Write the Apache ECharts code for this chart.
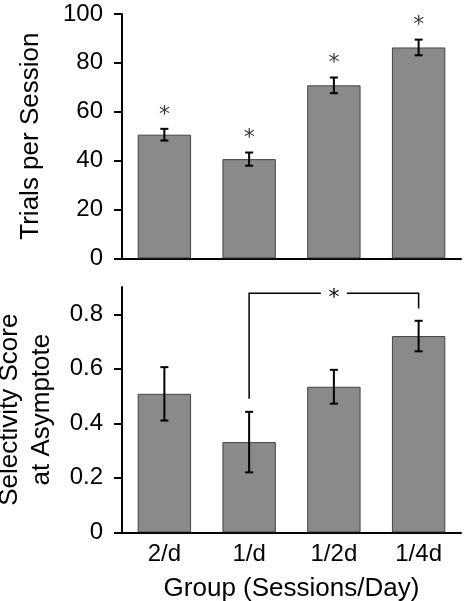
<!DOCTYPE html>
<html><head><meta charset="utf-8">
<script src="https://cdn.jsdelivr.net/npm/echarts@6/dist/echarts.min.js"></script>
<style>html,body{margin:0;padding:0;background:#fff}#c{width:464px;height:601px}</style>
</head><body><div id="c"></div>
<script>
var categories = ['2/d', '1/d', '1/2d', '1/4d'];
var trialsMean = [50.6, 40.6, 70.8, 86.3];
var trialsErr = [2.4, 2.7, 3.2, 3.2];
var trialsSig = [true, true, true, true];
var selMean = [0.508, 0.331, 0.534, 0.720];
var selErr = [0.098, 0.111, 0.062, 0.056];
var trialsTicks = [0, 20, 40, 60, 80, 100];
var selTicks = [0, 0.2, 0.4, 0.6, 0.8];
var bracket = [1, 3, 0.877, 0.49, 0.821]; // from cat, to cat, level, left leg end, right leg end

var FONT = '"Liberation Sans", Arial, Helvetica, sans-serif';
var STARFONT = '"DejaVu Sans", sans-serif';
var chart = echarts.init(document.getElementById('c'), null, {renderer: 'canvas'});

function errItem(params, api) {
  var x = api.value(0), lo = api.value(1), hi = api.value(2);
  var pHi = api.coord([x, hi]), pLo = api.coord([x, lo]);
  var cap = 4;
  var st = {stroke: '#000', lineWidth: 2};
  return {type: 'group', children: [
    {type: 'line', shape: {x1: pHi[0], y1: pHi[1], x2: pLo[0], y2: pLo[1]}, style: st},
    {type: 'line', shape: {x1: pHi[0]-cap, y1: pHi[1], x2: pHi[0]+cap, y2: pHi[1]}, style: st},
    {type: 'line', shape: {x1: pLo[0]-cap, y1: pLo[1], x2: pLo[0]+cap, y2: pLo[1]}, style: st}
  ]};
}

var trialsErrData = categories.map(function (c, i) { return [i, trialsMean[i]-trialsErr[i], trialsMean[i]+trialsErr[i]]; });
var selErrData = categories.map(function (c, i) { return [i, selMean[i]-selErr[i], selMean[i]+selErr[i]]; });
var starData = categories.map(function (c, i) { return trialsSig[i] ? [i, trialsMean[i]+trialsErr[i]] : null; }).filter(Boolean);

var axisLineStyle = {color: '#000', width: 2};
var barStyle = {color: '#8a8a8a', borderColor: '#444', borderWidth: 1};

var option = {
  animation: false,
  backgroundColor: '#fff',
  grid: [
    {left: 122, right: 3, top: 14, height: 244.3, containLabel: false, outerBoundsMode: 'none'},
    {left: 122, right: 3, top: 287, height: 245.3, containLabel: false, outerBoundsMode: 'none'}
  ],
  xAxis: [
    {gridIndex: 0, type: 'category', data: categories, axisLine: {lineStyle: axisLineStyle}, axisTick: {show: false}, axisLabel: {show: false}},
    {gridIndex: 1, type: 'category', data: categories, axisLine: {lineStyle: axisLineStyle}, axisTick: {show: false},
      axisLabel: {fontFamily: FONT, fontSize: 24, color: '#000', margin: 10},
      name: 'Group (Sessions/Day)', nameLocation: 'middle', nameGap: 44,
      nameTextStyle: {fontFamily: FONT, fontSize: 26, color: '#000'}}
  ],
  yAxis: [
    {gridIndex: 0, type: 'value', min: 0, max: 100, interval: 20,
      axisLine: {show: true, lineStyle: axisLineStyle}, axisTick: {show: true, length: 8, lineStyle: {color: '#000', width: 2}},
      splitLine: {show: false},
      axisLabel: {fontFamily: FONT, fontSize: 24, color: '#000', margin: 19, customValues: trialsTicks},
      name: 'Trials per Session', nameLocation: 'middle', nameRotate: 90, nameGap: 78,
      nameTextStyle: {fontFamily: FONT, fontSize: 26, color: '#000'}},
    {gridIndex: 1, type: 'value', min: 0, max: 0.9,
      axisLine: {show: true, lineStyle: axisLineStyle}, axisTick: {show: true, length: 8, lineStyle: {color: '#000', width: 2}, customValues: selTicks},
      splitLine: {show: false},
      axisLabel: {fontFamily: FONT, fontSize: 24, color: '#000', margin: 19, customValues: selTicks},
      name: 'Selectivity Score\nat Asymptote', nameLocation: 'middle', nameRotate: 90, nameGap: 64,
      nameTextStyle: {fontFamily: FONT, fontSize: 26, color: '#000', lineHeight: 32, align: 'center'}}
  ],
  series: [
    {type: 'bar', xAxisIndex: 0, yAxisIndex: 0, data: trialsMean, barWidth: '63%', itemStyle: barStyle},
    {type: 'custom', xAxisIndex: 0, yAxisIndex: 0, data: trialsErrData, renderItem: errItem, z: 5},
    {type: 'scatter', xAxisIndex: 0, yAxisIndex: 0, data: starData, symbolSize: 0, z: 6,
      label: {show: true, formatter: '*', position: 'inside', offset: [0, -14], align: 'center', verticalAlign: 'middle',
        fontFamily: STARFONT, fontSize: 22, color: '#000'}},
    {type: 'bar', xAxisIndex: 1, yAxisIndex: 1, data: selMean, barWidth: '63%', itemStyle: barStyle},
    {type: 'custom', xAxisIndex: 1, yAxisIndex: 1, data: selErrData, renderItem: errItem, z: 5},
    {type: 'custom', xAxisIndex: 1, yAxisIndex: 1, data: [bracket], z: 6,
      renderItem: function (params, api) {
        var a = api.coord([api.value(0), api.value(2)]);
        var b = api.coord([api.value(1), api.value(2)]);
        var la = api.coord([api.value(0), api.value(3)]);
        var lb = api.coord([api.value(1), api.value(4)]);
        var mid = (a[0] + b[0]) / 2, gap = 13;
        var st = {stroke: '#000', lineWidth: 1.5, fill: null};
        return {type: 'group', children: [
          {type: 'polyline', shape: {points: [[la[0], la[1]], [a[0], a[1]], [mid - gap, a[1]]]}, style: st},
          {type: 'polyline', shape: {points: [[mid + gap, b[1]], [b[0], b[1]], [lb[0], lb[1]]]}, style: st},
          {type: 'text', x: mid, y: a[1] + 5, style: {text: '*', fontFamily: STARFONT, fontSize: 22, fill: '#000', align: 'center', verticalAlign: 'middle'}}
        ]};
      }}
  ]
};
chart.setOption(option);
</script></body></html>
